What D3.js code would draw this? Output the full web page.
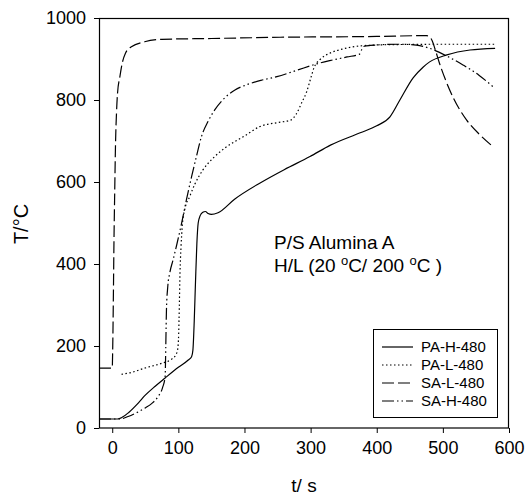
<!DOCTYPE html>
<html>
<head>
<meta charset="utf-8">
<script src="https://cdn.jsdelivr.net/npm/d3@7"></script>
<style>
  body { margin: 0; background: #fff; }
  svg { display: block; font-family: "Liberation Sans", Arial, sans-serif; }
</style>
</head>
<body>
<svg id="chart" width="527" height="495"></svg>
<script>
// ---- data ----
const seriesNames = ["PA-H-480", "PA-L-480", "SA-L-480", "SA-H-480"];
const xTicks = [0, 100, 200, 300, 400, 500, 600];
const yTicks = [0, 200, 400, 600, 800, 1000];

const paH = [[-20,22],[0,22],[8,22],[15,26],[25,38],[40,62],[50,80],[65,102],[80,122],[100,148],[115,166],[120,174],[122,190],[124,260],[126,360],[128,450],[130,500],[133,518],[137,526],[141,528],[145,523],[150,521],[160,525],[185,558],[223,597],[260,630],[299,662],[330,690],[375,720],[400,737],[420,759],[435,800],[455,854],[470,880],[480,893],[506,910],[541,922],[579,926]];
const paL = [[14,131],[30,136],[49,146],[75,158],[90,168],[96,178],[99,192],[100.5,230],[101.5,300],[102.5,380],[104,440],[106,495],[110,535],[117,564],[125,595],[137,629],[155,662],[173,686],[200,712],[223,735],[250,745],[270,751],[278,765],[287,795],[294,820],[300,852],[305,878],[315,900],[329,914],[350,925],[375,932],[420,935],[500,936],[579,936]];
const saL = [[-20,146],[0,146],[0.8,200],[1.8,330],[2.6,450],[3.8,580],[5,694],[6.5,770],[8,816],[11.6,857],[15,889],[20,914],[29,930],[49,942],[75,948],[150,950],[254,953],[400,955],[475,957],[480,954],[484,944],[488,925],[495,889],[505,845],[515,808],[536,751],[556,715],[576,686]];
const saH = [[-20,22],[0,22],[12,22],[24,28],[40,40],[50,49],[60,60],[69,76],[76,98],[80,125],[81,200],[82,288],[84,345],[87,378],[92,410],[98,450],[105,500],[112,555],[120,613],[127,660],[135,711],[145,748],[155,776],[170,805],[185,824],[203,837],[225,848],[249,857],[280,873],[309,888],[329,896],[355,905],[374,912],[377,922],[381,931],[390,933],[430,936],[460,934],[480,926],[505,908],[531,885],[555,860],[576,832]];

const allSeries = [paH, paL, saL, saH];
const dashes = [null, "1.5,2.5", "12,4", "12,3,1.5,3,1.5,3"];

// ---- layout ----
const svg = d3.select("#chart");
const x = d3.scaleLinear().domain([-20, 600]).range([99, 509]);
const y = d3.scaleLinear().domain([0, 1000]).range([428, 18]);

// axes
const xAxis = d3.axisBottom(x).tickValues(xTicks).tickFormat(d3.format("d")).tickSize(5).tickPadding(6).tickSizeOuter(0);
const yAxis = d3.axisLeft(y).tickValues(yTicks).tickFormat(d3.format("d")).tickSize(5).tickPadding(8).tickSizeOuter(0);

const gx = svg.append("g").attr("transform", "translate(0,428)").call(xAxis);
const gy = svg.append("g").attr("transform", "translate(99,0)").call(yAxis);
[gx, gy].forEach(g => {
  g.select(".domain").remove();
  g.selectAll("line").attr("stroke", "#000");
  g.selectAll("text").attr("fill", "#000").style("font-size", "18px");
});
gx.selectAll("text").attr("dy", "0.85em");

// frame
svg.append("rect").attr("x", 99.5).attr("y", 18.5)
  .attr("width", 409).attr("height", 409.5)
  .attr("fill", "none").attr("stroke", "#000").attr("stroke-width", 1.2);

// lines
const line = d3.line().x(d => x(d[0])).y(d => y(d[1])).curve(d3.curveMonotoneX);
allSeries.forEach((s, i) => {
  svg.append("path").datum(s).attr("d", line)
    .attr("fill", "none").attr("stroke", "#000").attr("stroke-width", 1.2)
    .attr("stroke-dasharray", dashes[i]);
});

// axis labels
svg.append("text").attr("x", 304).attr("y", 492).attr("text-anchor", "middle")
  .style("font-size", "19px").text("t/ s");
svg.append("text").attr("transform", "translate(28,224) rotate(-90)")
  .attr("text-anchor", "middle").style("font-size", "20px").text("T/°C");

// annotation
svg.append("text").attr("x", 274).attr("y", 249).style("font-size", "19px").text("P/S Alumina A");
const t2 = svg.append("text").attr("x", 274).attr("y", 272).style("font-size", "19px");
t2.append("tspan").text("H/L (20 ");
t2.append("tspan").attr("dy", -7).style("font-size", "13px").text("o");
t2.append("tspan").attr("dy", 7).text("C/ 200 ");
t2.append("tspan").attr("dy", -7).style("font-size", "13px").text("o");
t2.append("tspan").attr("dy", 7).text("C )");

// legend
svg.append("rect").attr("x", 373.5).attr("y", 329.5).attr("width", 124).attr("height", 88)
  .attr("fill", "#fff").attr("stroke", "#000").attr("stroke-width", 1);
const rowsY = [347, 365, 383, 401];
seriesNames.forEach((n, i) => {
  svg.append("line").attr("x1", 382).attr("x2", 413).attr("y1", rowsY[i]).attr("y2", rowsY[i])
    .attr("stroke", "#000").attr("stroke-width", 1.2).attr("stroke-dasharray", dashes[i]);
  svg.append("text").attr("x", 421).attr("y", rowsY[i] + 5).style("font-size", "15px").text(n);
});
</script>
</body>
</html>
